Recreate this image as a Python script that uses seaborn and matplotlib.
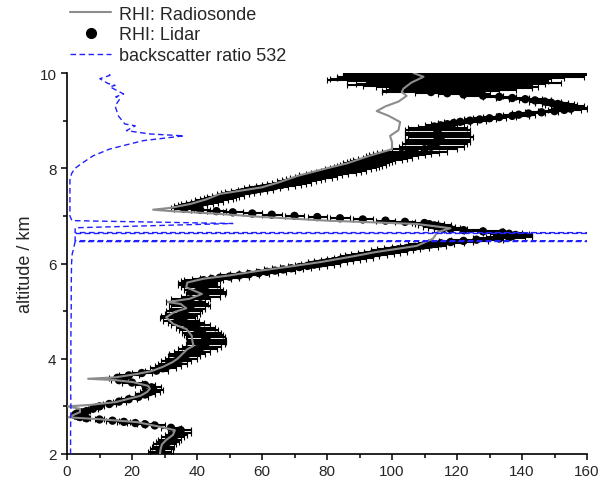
import matplotlib
matplotlib.use("Agg")
import matplotlib.pyplot as plt
import seaborn as sns
import pandas as pd
from matplotlib.lines import Line2D
from matplotlib.ticker import MultipleLocator

# lidar RHI profile: altitude (km), RHI (%), error (%)
lidar_alt = [2.00, 2.05, 2.10, 2.15, 2.20, 2.25, 2.30, 2.35, 2.40, 2.45,
             2.50, 2.55, 2.60,
             2.625, 2.65, 2.675, 2.70, 2.725, 2.75, 2.775, 2.80, 2.825, 2.85,
             2.875, 2.90,
             2.95, 3.00, 3.05, 3.10, 3.15, 3.20, 3.25, 3.30, 3.35, 3.40,
             3.45, 3.50, 3.55, 3.60, 3.65, 3.70, 3.75, 3.80, 3.85, 3.90,
             3.95, 4.00, 4.05, 4.10, 4.15, 4.20, 4.25, 4.30, 4.35, 4.40,
             4.45, 4.50, 4.55, 4.60, 4.65, 4.70, 4.75, 4.80, 4.85, 4.90,
             4.95, 5.00, 5.05, 5.10, 5.15, 5.20, 5.25, 5.30, 5.35, 5.40,
             5.45, 5.50, 5.55, 5.60,
             5.625, 5.65, 5.675, 5.70, 5.725, 5.75, 5.775, 5.80, 5.825, 5.85,
             5.875, 5.90, 5.925, 5.95, 5.975, 6.00, 6.025, 6.05, 6.075, 6.10,
             6.125, 6.15, 6.175, 6.20, 6.225, 6.25, 6.275, 6.30, 6.325, 6.35,
             6.375, 6.40, 6.425, 6.45, 6.475, 6.50,
             6.525, 6.55, 6.575, 6.60, 6.625, 6.65, 6.675, 6.70, 6.725, 6.75,
             6.775, 6.80, 6.825, 6.85, 6.875, 6.90, 6.925, 6.95, 6.975, 7.00,
             7.025, 7.05, 7.075, 7.10, 7.125, 7.15,
             7.175, 7.20, 7.225, 7.25, 7.275, 7.30, 7.325, 7.35, 7.375, 7.40,
             7.425, 7.45, 7.475, 7.50, 7.525, 7.55, 7.575, 7.60, 7.625, 7.65,
             7.675, 7.70, 7.725, 7.75, 7.775, 7.80, 7.825, 7.85, 7.875, 7.90,
             7.925, 7.95, 7.975, 8.00, 8.025, 8.05, 8.075, 8.10, 8.125, 8.15,
             8.175, 8.20, 8.225, 8.25, 8.275, 8.30, 8.325, 8.35,
             8.40, 8.45, 8.50, 8.55, 8.60, 8.65, 8.70, 8.75, 8.80, 8.85,
             8.875, 8.90, 8.925, 8.95, 8.975, 9.00, 9.025, 9.05, 9.075, 9.10,
             9.125, 9.15, 9.175, 9.20, 9.225, 9.25, 9.275, 9.30, 9.325, 9.35,
             9.375, 9.40, 9.425, 9.45, 9.475, 9.50, 9.525, 9.55, 9.575,
             9.60, 9.625, 9.65, 9.675, 9.70, 9.725, 9.75, 9.775, 9.80, 9.825,
             9.85, 9.875, 9.90, 9.925, 9.95, 9.975, 10.00]
lidar_rhi = [29, 28.5, 29, 29.5, 30, 31, 31.5, 32.5, 33.5, 34.5,
             35, 32, 27,
             24, 21, 17.5, 14, 10, 6, 4, 3, 2.5, 3,
             4.5, 6,
             8, 10, 13, 16, 19, 22, 24, 25.5, 26.5, 26,
             24, 20, 16, 15.5, 19, 23, 27.5, 29.5, 31, 32.5,
             33.5, 35, 36, 37, 38.5, 40, 41.5, 42.5, 43, 43,
             42.5, 42, 41.5, 40.5, 39.5, 38, 36.5, 35, 34, 34.5,
             35.5, 36, 37, 38, 37.5, 36.5, 38, 41, 42.5, 43,
             42, 41, 40, 40,
             41, 42, 44.5, 47, 50, 53, 56, 59, 61.5, 64,
             66.5, 69, 71.5, 74, 76, 78, 80, 82, 84, 86,
             88, 90, 92, 94, 96, 98, 100, 102, 104.5, 107,
             109.5, 112, 115, 118, 122, 126,
             133, 136, 137, 138, 136, 134, 128, 122, 118, 116,
             114.5, 113, 111.5, 110, 104, 98, 91, 84, 77, 70,
             63, 57, 51, 46, 41, 36,
             36, 37, 38.5, 40, 41.5, 43, 44.5, 46, 47, 48,
             49.5, 51, 52.5, 54, 56, 58, 60, 62, 64, 66,
             67.5, 69, 70.5, 72, 73.5, 75, 76.5, 78, 80, 82,
             83.5, 85, 86.5, 88, 89, 90, 91, 92, 93, 94,
             95.5, 97, 98.5, 100, 101.5, 103, 105, 107,
             110, 112, 113, 114, 114, 115, 114, 114, 114, 114,
             113, 115, 117, 119, 121, 124, 127, 130, 133, 137,
             139, 142, 146, 150, 153, 155, 155, 154, 152, 151,
             149, 147, 144, 141, 137, 133, 128, 122, 117,
             112, 115, 118, 121, 120, 117, 114, 118, 122, 117,
             112, 115, 118, 121, 125, 128, 130]
lidar_err = [3.5, 3.5, 3.5, 3.5, 3.5, 3.5, 3.5, 3.5, 3.5, 3.5,
             3, 3, 3,
             2.5, 2.5, 2, 2, 1.5, 1, 1, 1, 1, 1,
             1, 1,
             1.5, 1.5, 2, 2, 2.5, 3, 3, 3, 3, 3,
             3, 3, 2.5, 2.5, 3, 3, 3.5, 4, 4, 4.5,
             4.5, 5, 5, 5.5, 5.5, 6, 6, 6, 6, 6,
             6, 6, 6, 6, 6, 6, 5.5, 5.5, 5.5, 5.5,
             5.5, 5.5, 5.5, 6, 6, 6, 6, 6, 6, 6,
             6, 6, 6, 6,
             6, 6, 6, 6, 6, 6, 6, 6, 6, 6,
             6, 6, 6, 6, 6, 6, 6, 6, 6, 6,
             6, 6, 6.5, 6.5, 6.5, 6.5, 6.5, 6.5, 7, 7,
             7, 7, 7, 7, 7.5, 8,
             8, 7, 6, 5, 6, 6, 6, 6, 5, 5,
             5, 5, 4.5, 4, 3, 3, 3, 3, 3, 3,
             3, 3, 3, 3, 3, 3,
             4, 4, 4.5, 5, 5, 5, 5, 5, 5, 5,
             5, 5, 5, 5.5, 5.5, 5.5, 5.5, 6, 6, 6,
             6, 6, 6, 6, 6, 6.5, 6.5, 6.5, 6.5, 7,
             7, 7, 7, 7, 7, 7, 7, 7, 7, 7,
             7.5, 7.5, 7.5, 8, 8.5, 9, 9.5, 10,
             10, 10, 10, 10, 10, 10, 10, 10, 10, 9,
             5, 5, 5, 5, 5, 5, 5, 5, 5, 5,
             5, 5, 5, 5, 5, 5, 5, 5, 5, 5,
             5, 5, 5, 5, 5, 5, 6, 8, 10,
             15, 18, 20, 22, 25, 26, 28, 29, 30, 31,
             32, 34, 35, 38, 40, 42, 45]

# radiosonde RHI profile
sonde_alt = [2.00, 2.10, 2.20, 2.30, 2.40, 2.50, 2.58, 2.67, 2.73, 2.77,
             2.82, 2.88, 2.95, 3.00, 3.03, 3.09, 3.16, 3.22, 3.30, 3.37,
             3.43, 3.51, 3.55, 3.58, 3.61, 3.68, 3.74, 3.83, 3.93, 4.00,
             4.10, 4.20, 4.27, 4.40, 4.48, 4.62, 4.73, 4.87, 4.98, 5.06,
             5.15, 5.19, 5.26, 5.36, 5.50, 5.60, 5.68, 5.75, 5.85, 5.95,
             6.03, 6.15, 6.24, 6.37, 6.52, 6.66, 6.74, 6.83, 6.90, 6.98,
             7.05, 7.10, 7.13, 7.17, 7.25, 7.35, 7.46, 7.60, 7.70, 7.84,
             8.00, 8.10, 8.26, 8.40, 8.55, 8.68, 8.80, 8.97, 9.10, 9.20,
             9.30, 9.40, 9.52, 9.60, 9.67, 9.80, 9.92, 10.00]
sonde_rhi = [28.6, 28.8, 29.2, 30.6, 32.6, 33.2, 28, 21.5, 10, 0.5,
             2, 4, 4, 0, 7, 15, 19, 22.5, 24.6, 25.5,
             25, 20.3, 15, 6.5, 15, 21.5, 26, 29.5, 32.5, 34,
             35.5, 37, 38.9, 38.5, 38.4, 36.8, 32.7, 30.5, 33, 36.7,
             35, 31, 37.8, 41.5, 36.7, 37, 42, 50, 59.4, 70,
             78, 88, 95, 107.6, 112.6, 114, 118, 107.7, 80, 59.4,
             45, 32, 26.5, 32, 38, 43, 47, 60, 65, 71,
             80, 86, 93, 100, 100, 99.4, 102, 102.5, 99, 95.3,
             98, 102, 104.5, 103, 103.5, 106, 109.7, 106.6]

# backscatter ratio at 532 nm
bsr_alt = [2.00, 2.50, 3.00, 3.50, 4.00, 4.50, 5.00, 5.50, 6.00, 6.20,
           6.30, 6.40, 6.46, 6.47, 6.48, 6.63, 6.64, 6.65, 6.75, 6.84,
           6.90, 7.00, 7.50, 7.78, 7.90, 8.00, 8.10, 8.26, 8.40,
           8.47, 8.58, 8.68, 8.72, 8.79, 8.89, 8.93, 9.10, 9.31, 9.46,
           9.50, 9.56, 9.71, 9.74, 9.78, 9.88, 9.95, 9.98]
bsr_val = [1.1, 1.1, 1.2, 1.1, 1.2, 1.2, 1.3, 1.3, 1.4, 1.6,
           2.0, 2.3, 2.5, 900, 2.5, 2.5, 900, 2.5, 2.5, 51,
           1.5, 0.9, 0.9, 0.9, 1.5, 2.5, 4.5, 8, 13,
           17, 23.5, 36, 25.5, 18.3, 21, 17.8, 15.8, 14.8, 16.3,
           15, 17.4, 13.2, 14.8, 12.6, 10.1, 13.2, 13]

lidar = pd.DataFrame({"alt": lidar_alt, "rhi": lidar_rhi, "err": lidar_err})
sonde = pd.DataFrame({"alt": sonde_alt, "rhi": sonde_rhi})
bsr = pd.DataFrame({"alt": bsr_alt, "val": bsr_val})

sns.set_style("ticks")
plt.rcParams["font.family"] = ["Liberation Sans", "DejaVu Sans"]

fig = plt.figure(figsize=(5.99, 4.85), dpi=100)
ax = fig.add_axes([67 / 599, 30 / 485, 520 / 599, 381 / 485])

ax.errorbar(lidar["rhi"], lidar["alt"], xerr=lidar["err"], fmt="none",
            ecolor="black", elinewidth=1.5, capsize=2.2, capthick=0.8, zorder=1)
sns.scatterplot(data=lidar, x="rhi", y="alt", color="black", s=36,
                edgecolor="none", ax=ax, zorder=2)
sns.lineplot(data=sonde, x="rhi", y="alt", orient="y", sort=False, estimator=None,
             color="#8c8c8c", lw=1.5, ax=ax, zorder=3)
sns.lineplot(data=bsr, x="val", y="alt", orient="y", sort=False, estimator=None,
             color="#1f1fff", lw=1.0, dashes=False, linestyle=(0, (4, 2.5)),
             ax=ax, zorder=4)

ax.set_xlim(0, 160)
ax.set_ylim(2, 10)
ax.xaxis.set_major_locator(MultipleLocator(20))
ax.xaxis.set_minor_locator(MultipleLocator(10))
ax.yaxis.set_major_locator(MultipleLocator(2))
ax.yaxis.set_minor_locator(MultipleLocator(1))
ax.set_xlabel("")
ax.set_ylabel("altitude / km", fontsize=13)
ax.tick_params(which="major", direction="out", length=4, width=1.1, labelsize=11, color="black")
ax.tick_params(which="minor", direction="out", length=3, width=1.1, color="black")
sns.despine(ax=ax)
for s in ["left", "bottom"]:
    ax.spines[s].set_linewidth(1.2)
    ax.spines[s].set_color("black")

handles = [
    Line2D([], [], color="#8c8c8c", lw=1.5),
    Line2D([], [], color="black", marker="o", ls="none", markersize=7),
    Line2D([], [], color="#1f1fff", lw=1.0, ls=(0, (4, 2.5))),
]
labels = ["RHI: Radiosonde", "RHI: Lidar", "backscatter ratio 532"]
fig.legend(handles, labels, loc="upper left", bbox_to_anchor=(68 / 599, 0.99),
           frameon=False, fontsize=13, handlelength=2.3, handletextpad=0.45,
           labelspacing=0.2, borderpad=0.1, borderaxespad=0)

fig.savefig("out.png", dpi=100)
